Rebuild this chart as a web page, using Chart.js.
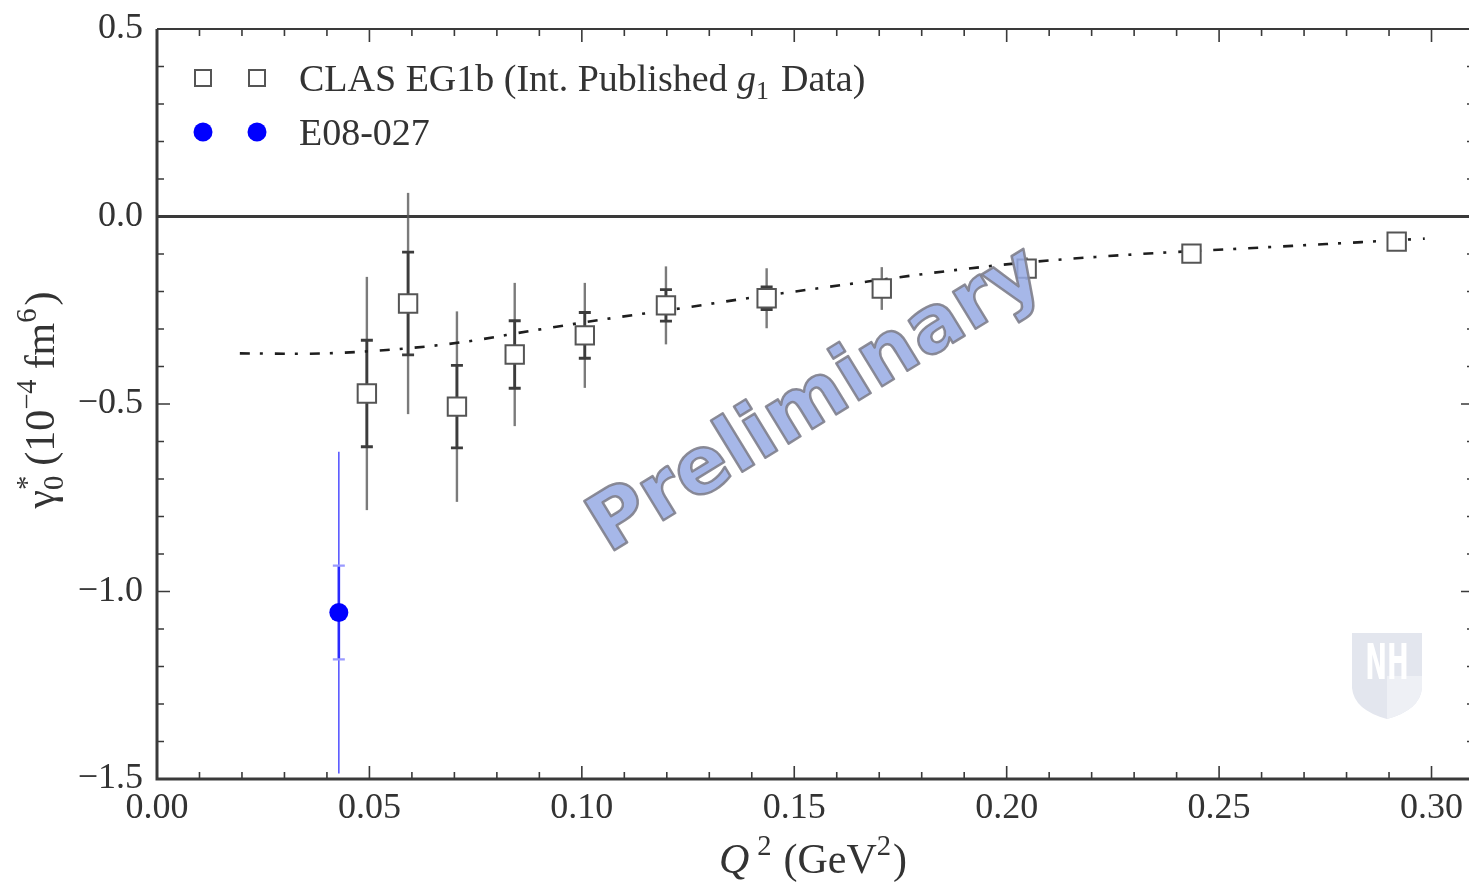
<!DOCTYPE html>
<html>
<head>
<meta charset="utf-8">
<script src="https://cdn.jsdelivr.net/npm/chart.js@4.4.0/dist/chart.umd.min.js"></script>
<style>
  html, body { margin: 0; padding: 0; background: #fff; overflow: hidden; }
  #wrap { width: 1469px; height: 883px; position: relative; overflow: hidden; }
</style>
</head>
<body>
<div id="wrap"><canvas id="grafico"></canvas></div>
<script>
// dados
const clasX = [0.0494, 0.0591, 0.0706, 0.0842, 0.1007, 0.1198, 0.1435, 0.1706, 0.2047, 0.2435, 0.2918];
const clasY = [-0.472, -0.232, -0.507, -0.368, -0.317, -0.237, -0.218, -0.192, -0.139, -0.099, -0.067];
const clasStatErr = [0.142, 0.137, 0.110, 0.090, 0.061, 0.042, 0.030, 0.020, 0.012, 0.008, 0.006];
const clasTotErr = [0.311, 0.295, 0.254, 0.191, 0.140, 0.104, 0.080, 0.057, 0.030, 0.020, 0.015];

const e08X = [0.0428];
const e08Y = [-1.056];
const e08StatErr = [0.125];
const e08TotErr = [0.429];

const curveX = [0.0195, 0.0336, 0.0541, 0.0713, 0.0885, 0.1059, 0.1238, 0.1365, 0.1624, 0.1878, 0.2061, 0.2315, 0.2546, 0.2776, 0.2984];
const curveY = [-0.365, -0.366, -0.356, -0.336, -0.304, -0.273, -0.244, -0.222, -0.181, -0.143, -0.121, -0.100, -0.086, -0.072, -0.059];

const xTicks = [0, 0.05, 0.10, 0.15, 0.20, 0.25, 0.30];
const yTicks = [-1.5, -1.0, -0.5, 0.0, 0.5];

const legendLabels = ['CLAS EG1b (Int. Published ', 'E08-027'];

// o quadro vai ate 0.31, a janela corta um pouco antes
const xMaxQuadro = 0.31;
const xMaxVisivel = 0.3087;

const serif = '"Liberation Serif", "DejaVu Serif", serif';
const corTexto = '#333333';

function pontos(xs, ys) {
  return xs.map((x, i) => ({ x: x, y: ys[i] }));
}

// desenha texto com sub/sobrescritos
function textoRico(ctx, partes, x, y, tam, alinhar) {
  ctx.save();
  ctx.textBaseline = 'alphabetic';
  let larg = 0;
  const medidas = partes.map(p => {
    const t = p.s ? tam * 0.68 : tam;
    ctx.font = (p.i ? 'italic ' : '') + t + 'px ' + serif;
    const w = ctx.measureText(p.t).width + (p.gap || 0);
    return { w: w, t: t };
  });
  medidas.forEach((m, i) => { if (!partes[i].back) larg += m.w; });
  let cx = alinhar === 'center' ? x - larg / 2 : x;
  let ultimaW = 0;
  partes.forEach((p, i) => {
    const m = medidas[i];
    ctx.font = (p.i ? 'italic ' : '') + m.t + 'px ' + serif;
    let dy = 0;
    if (p.s === 'sup') dy = -tam * 0.42;
    if (p.s === 'sub') dy = tam * 0.22;
    let px = cx;
    if (p.back) px = cx - ultimaW;
    ctx.fillText(p.t, px, y + dy);
    if (p.back) {
      cx = cx - ultimaW + Math.max(ultimaW, m.w);
    } else {
      cx += m.w;
      ultimaW = m.w;
    }
  });
  ctx.restore();
}

const plugExtras = {
  id: 'extras',
  beforeDatasetsDraw(chart) {
    const ctx = chart.ctx;
    const xs = chart.scales.x, ys = chart.scales.y;
    const area = chart.chartArea;

    // linha do zero
    ctx.save();
    ctx.strokeStyle = '#3a3a3a';
    ctx.lineWidth = 3;
    ctx.beginPath();
    ctx.moveTo(area.left, ys.getPixelForValue(0));
    ctx.lineTo(chart.width + 10, ys.getPixelForValue(0));
    ctx.stroke();

    // barras de erro CLAS
    clasX.forEach((xv, i) => {
      const px = xs.getPixelForValue(xv);
      ctx.strokeStyle = 'rgba(90,90,90,0.8)';
      ctx.lineWidth = 2.4;
      ctx.beginPath();
      ctx.moveTo(px, ys.getPixelForValue(clasY[i] + clasTotErr[i]));
      ctx.lineTo(px, ys.getPixelForValue(clasY[i] - clasTotErr[i]));
      ctx.stroke();
      const top = ys.getPixelForValue(clasY[i] + clasStatErr[i]);
      const bot = ys.getPixelForValue(clasY[i] - clasStatErr[i]);
      ctx.strokeStyle = '#3c3c3c';
      ctx.lineWidth = 2.8;
      ctx.beginPath();
      ctx.moveTo(px, top);
      ctx.lineTo(px, bot);
      ctx.moveTo(px - 6, top);
      ctx.lineTo(px + 6, top);
      ctx.moveTo(px - 6, bot);
      ctx.lineTo(px + 6, bot);
      ctx.stroke();
    });

    // barras de erro E08-027
    e08X.forEach((xv, i) => {
      const px = xs.getPixelForValue(xv);
      ctx.strokeStyle = '#5a5aff';
      ctx.lineWidth = 1.6;
      ctx.beginPath();
      ctx.moveTo(px, ys.getPixelForValue(e08Y[i] + e08TotErr[i]));
      ctx.lineTo(px, ys.getPixelForValue(e08Y[i] - e08TotErr[i]));
      ctx.stroke();
      const top = ys.getPixelForValue(e08Y[i] + e08StatErr[i]);
      const bot = ys.getPixelForValue(e08Y[i] - e08StatErr[i]);
      ctx.strokeStyle = '#2a2aff';
      ctx.lineWidth = 2.6;
      ctx.beginPath();
      ctx.moveTo(px, top);
      ctx.lineTo(px, bot);
      ctx.stroke();
      ctx.strokeStyle = '#9a9aff';
      ctx.lineWidth = 2.4;
      ctx.beginPath();
      ctx.moveTo(px - 6, top);
      ctx.lineTo(px + 6, top);
      ctx.moveTo(px - 6, bot);
      ctx.lineTo(px + 6, bot);
      ctx.stroke();
    });
    ctx.restore();
  },
  afterDatasetsDraw(chart) {
    const ctx = chart.ctx;

    // marca d'agua
    ctx.save();
    ctx.translate(817, 402);
    ctx.rotate(-31.5 * Math.PI / 180);
    let tam = 100;
    ctx.font = 'bold ' + tam + 'px "DejaVu Sans", sans-serif';
    const w = ctx.measureText('Preliminary').width;
    tam = tam * 515 / w;
    ctx.font = 'bold ' + tam + 'px "DejaVu Sans", sans-serif';
    ctx.textAlign = 'center';
    ctx.textBaseline = 'middle';
    ctx.lineJoin = 'round';
    ctx.fillStyle = 'rgba(150,170,228,0.85)';
    ctx.fillText('Preliminary', 0, 0);
    ctx.strokeStyle = 'rgba(128,128,140,0.9)';
    ctx.lineWidth = 2.5;
    ctx.strokeText('Preliminary', 0, 0);
    ctx.restore();

    // escudo NH
    ctx.save();
    ctx.fillStyle = '#e3e6ee';
    ctx.beginPath();
    ctx.moveTo(1352, 633);
    ctx.lineTo(1422, 633);
    ctx.lineTo(1422, 688);
    ctx.quadraticCurveTo(1420, 710, 1387, 719);
    ctx.quadraticCurveTo(1354, 710, 1352, 688);
    ctx.closePath();
    ctx.fill();
    ctx.fillStyle = '#eef0f5';
    ctx.beginPath();
    ctx.moveTo(1387, 676);
    ctx.lineTo(1422, 676);
    ctx.lineTo(1422, 688);
    ctx.quadraticCurveTo(1420, 710, 1387, 719);
    ctx.closePath();
    ctx.fill();
    ctx.fillStyle = '#ffffff';
    ctx.font = 'bold 34px "DejaVu Sans Condensed", "DejaVu Sans", sans-serif';
    ctx.textAlign = 'center';
    ctx.textBaseline = 'middle';
    ctx.save();
    ctx.translate(1387, 666);
    ctx.scale(0.85, 1.45);
    ctx.fillText('NH', 0, 0);
    ctx.restore();
    ctx.restore();
  },
  afterDraw(chart) {
    const ctx = chart.ctx;
    const xs = chart.scales.x, ys = chart.scales.y;
    const a = chart.chartArea;
    const direita = xs.getPixelForValue(xMaxQuadro);
    ctx.save();
    ctx.strokeStyle = '#3a3a3a';

    // marcas menores e maiores
    ctx.lineWidth = 1.6;
    ctx.beginPath();
    for (let k = 0; k <= 30; k++) {
      const v = k / 100;
      const px = xs.getPixelForValue(v);
      const len = k % 5 === 0 ? 13 : 7;
      ctx.moveTo(px, a.bottom);
      ctx.lineTo(px, a.bottom - len);
      ctx.moveTo(px, a.top);
      ctx.lineTo(px, a.top + len);
    }
    for (let k = -15; k <= 5; k++) {
      const py = ys.getPixelForValue(k / 10);
      const len = k % 5 === 0 ? 13 : 7;
      ctx.moveTo(a.left, py);
      ctx.lineTo(a.left + len, py);
      ctx.moveTo(direita, py);
      ctx.lineTo(direita - len, py);
    }
    ctx.stroke();

    // moldura
    ctx.lineWidth = 3;
    ctx.beginPath();
    ctx.moveTo(a.left, a.top);
    ctx.lineTo(a.left, a.bottom);
    ctx.lineTo(direita, a.bottom);
    ctx.stroke();
    ctx.lineWidth = 2.2;
    ctx.beginPath();
    ctx.moveTo(a.left, a.top);
    ctx.lineTo(direita, a.top);
    ctx.lineTo(direita, a.bottom);
    ctx.stroke();

    // legenda
    ctx.fillStyle = '#ffffff';
    ctx.strokeStyle = '#555555';
    ctx.lineWidth = 2;
    [203, 257].forEach(lx => {
      ctx.fillRect(lx - 8, 70, 16, 16);
      ctx.strokeRect(lx - 8, 70, 16, 16);
    });
    ctx.fillStyle = '#0000ff';
    [203, 257].forEach(lx => {
      ctx.beginPath();
      ctx.arc(lx, 132, 9.5, 0, Math.PI * 2);
      ctx.fill();
    });
    ctx.fillStyle = corTexto;
    textoRico(ctx, [
      { t: legendLabels[0] },
      { t: 'g', i: true },
      { t: '1', s: 'sub', gap: 12 },
      { t: 'Data)' }
    ], 299, 91, 38, 'left');
    textoRico(ctx, [{ t: legendLabels[1] }], 299, 145, 38, 'left');

    // titulos dos eixos
    textoRico(ctx, [
      { t: 'Q', i: true, gap: 8 },
      { t: '2', s: 'sup', gap: 12 },
      { t: '(GeV' },
      { t: '2', s: 'sup', gap: 2 },
      { t: ')' }
    ], 813, 873, 42, 'center');

    ctx.save();
    ctx.translate(54, 405);
    ctx.rotate(-Math.PI / 2);
    textoRico(ctx, [
      { t: 'γ' },
      { t: '0', s: 'sub' },
      { t: '*', s: 'sup', back: true, gap: 10 },
      { t: '(10' },
      { t: '−4', s: 'sup', gap: 10 },
      { t: 'fm' },
      { t: '6', s: 'sup', gap: 3 },
      { t: ')' }
    ], 0, 0, 42, 'center');
    ctx.restore();

    ctx.restore();
  }
};

const ctx = document.getElementById('grafico').getContext('2d');

const grafico = new Chart(ctx, {
  type: 'scatter',
  data: {
    datasets: [
      {
        label: 'E08-027',
        data: pontos(e08X, e08Y),
        pointStyle: 'circle',
        pointRadius: 9.5,
        pointBackgroundColor: '#0000ff',
        pointBorderWidth: 0,
        order: 0
      },
      {
        label: 'CLAS EG1b',
        data: pontos(clasX, clasY),
        pointStyle: 'rect',
        pointRadius: 13,
        pointBackgroundColor: '#ffffff',
        pointBorderColor: '#555555',
        pointBorderWidth: 2,
        order: 1
      },
      {
        type: 'line',
        label: 'curva',
        data: pontos(curveX, curveY),
        showLine: true,
        pointRadius: 0,
        borderColor: '#1e1e1e',
        borderWidth: 2.6,
        borderDash: [10, 10, 3, 12],
        cubicInterpolationMode: 'monotone',
        fill: false,
        order: 2
      }
    ]
  },
  options: {
    responsive: true,
    maintainAspectRatio: false,
    animation: false,
    devicePixelRatio: 1,
    layout: { padding: { top: 29, right: 0, left: 0, bottom: 0 } },
    plugins: {
      legend: { display: false },
      tooltip: { enabled: false }
    },
    scales: {
      x: {
        type: 'linear',
        min: 0,
        max: xMaxVisivel,
        afterFit: s => { s.height = 104; s.paddingRight = 0; s.paddingLeft = 0; },
        afterBuildTicks: s => { s.ticks = xTicks.map(v => ({ value: v })); },
        grid: { display: false },
        border: { display: false },
        ticks: {
          includeBounds: false,
          padding: 0,
          color: corTexto,
          font: { family: serif, size: 36 },
          maxRotation: 0,
          autoSkip: false,
          callback: v => v.toFixed(2)
        }
      },
      y: {
        type: 'linear',
        min: -1.5,
        max: 0.5,
        afterFit: s => { s.width = 157; s.paddingTop = 0; s.paddingBottom = 0; },
        afterBuildTicks: s => { s.ticks = yTicks.map(v => ({ value: v })); },
        grid: { display: false },
        border: { display: false },
        ticks: {
          padding: 6,
          color: corTexto,
          font: { family: serif, size: 36 },
          autoSkip: false,
          callback: v => (v < 0 ? '−' : '') + Math.abs(v).toFixed(1)
        }
      }
    }
  },
  plugins: [plugExtras]
});

// ajusta o limite do eixo x para que o quadro (0.31) caia logo fora da janela
const area = grafico.chartArea;
const pxPorUnidade = (grafico.width + 5 - area.left) / xMaxQuadro;
grafico.options.scales.x.max = (area.right - area.left) / pxPorUnidade;
grafico.update();
</script>
</body>
</html>
